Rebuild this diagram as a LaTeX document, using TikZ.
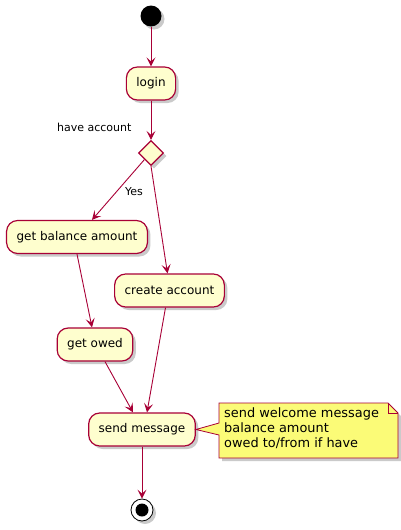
\documentclass[tikz,border=0pt]{standalone}
\usepackage{fontspec}
\setmainfont{DejaVu Sans}
\usetikzlibrary{shadows,arrows.meta,shapes.geometric}

\definecolor{umlred}{HTML}{A80036}
\definecolor{umlfill}{HTML}{FEFECE}
\definecolor{notefill}{HTML}{FBFB77}

\tikzset{
  umlshadow/.style={drop shadow={shadow xshift=3pt, shadow yshift=-3pt, fill=black!35, opacity=.6}},
  action/.style={draw=umlred, fill=umlfill, line width=1.2pt, rounded corners=11pt,
    minimum height=33pt, inner xsep=10pt, font=\fontsize{12}{14}\selectfont, umlshadow},
  decision/.style={diamond, draw=umlred, fill=umlfill, line width=1.2pt,
    minimum size=25pt, inner sep=0pt, umlshadow},
  guard/.style={font=\fontsize{11}{13}\selectfont},
  flow/.style={draw=umlred, line width=0.9pt, -{Stealth[length=9pt,width=9pt,inset=4pt]}},
}

\begin{document}
\begin{tikzpicture}[x=1pt, y=-1pt]
  \useasboundingbox (0,0) rectangle (401,530);

  % start and end
  \node[circle, fill=black, minimum size=21pt, inner sep=0pt, umlshadow] (start) at (151,16) {};
  \node[circle, draw=black, fill=white, line width=0.8pt, minimum size=22pt, inner sep=0pt, umlshadow] (stop) at (142,510) {};
  \node[circle, fill=black, minimum size=13pt, inner sep=0pt] at (stop) {};

  % activities
  \node[action] (login) at (151,83.5) {login};
  \node[decision] (check) at (151,153) {};
  \node[action] (balance) at (77,237) {get balance amount};
  \node[action] (create) at (169.5,290.5) {create account};
  \node[action] (owed) at (95,344.5) {get owed};
  \node[action] (send) at (142,429.5) {send message};

  % labels
  \node[guard, anchor=east] (askacc) at (135,127) {have account};
  \node[guard] (yes) at (134,192) {Yes};

  % note
  \fill[black!35, opacity=.6, shift={(3,3)}]
    (219,403) -- (388,403) -- (398,413) -- (398,458) -- (219,458) -- cycle;
  \draw[umlred, fill=notefill, line width=0.8pt]
    (219,403) -- (388,403) -- (398,413) -- (398,458) -- (219,458) -- (219,435)
    -- (send.east) -- (219,423) -- cycle;
  \draw[umlred, line width=0.8pt] (388,403) -- (388,413) -- (398,413);
  \node[anchor=north west, align=left, inner sep=0pt,
    font=\fontsize{12.9}{15}\selectfont] (memo) at (224,407)
    {send welcome message\\balance amount\\owed to/from if have};

  % flows
  \draw[flow] (start) -- (login);
  \draw[flow] (login) -- (check.north);
  \draw[flow] (check.south west) -- ([xshift=15pt]balance.north);
  \draw[flow] (check.south) -- ([xshift=-2pt]create.north);
  \draw[flow] (balance.south) -- ([xshift=-3pt]owed.north);
  \draw[flow] ([xshift=10pt]owed.south) -- ([xshift=-9pt]send.north);
  \draw[flow] ([xshift=-4pt]create.south) -- ([xshift=5pt]send.north);
  \draw[flow] (send) -- (stop);
\end{tikzpicture}
\end{document}
